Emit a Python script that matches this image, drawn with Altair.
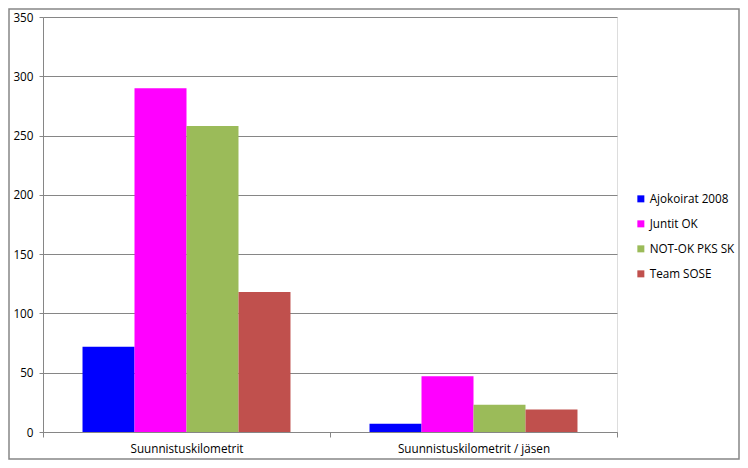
import altair as alt
import pandas as pd

categories = ["Suunnistuskilometrit", "Suunnistuskilometrit / jäsen"]
series = ["Ajokoirat 2008", "Juntit OK", "NOT-OK PKS SK", "Team SOSE"]
colors = ["#0000FF", "#FF00FF", "#9BBB59", "#C0504D"]
ajokoirat = [72, 7]
juntit = [290, 47]
notok = [258, 23]
sose = [118, 19]

values = [ajokoirat, juntit, notok, sose]
rows = []
for s, vals in zip(series, values):
    for c, v in zip(categories, vals):
        rows.append({"kategoria": c, "sarja": s, "arvo": v})
df = pd.DataFrame(rows)

FONT = "Open Sans"
FS = 11.7
GRAY = "#868686"

W, H = 574, 415
PL, PT, PR, PB = 35, 9, 123, 28

bars = alt.Chart(df).mark_bar(stroke=None).encode(
    x=alt.X("kategoria:N", sort=categories, title=None,
            scale=alt.Scale(paddingInner=0, paddingOuter=0),
            axis=alt.Axis(labelAngle=0, tickBand="extent", domainColor=GRAY, tickColor=GRAY,
                          tickSize=5, labelPadding=6, labelFontSize=FS, labelColor="#000000",
                          labelFont=FONT, grid=False)),
    xOffset=alt.XOffset("sarja:N", sort=series,
                        scale=alt.Scale(paddingInner=0, paddingOuter=0.76)),
    y=alt.Y("arvo:Q", title=None,
            scale=alt.Scale(domain=[0, 350], nice=False),
            axis=alt.Axis(values=[0, 50, 100, 150, 200, 250, 300, 350], grid=True,
                          gridColor=GRAY, gridOpacity=1, domainColor=GRAY, tickColor=GRAY,
                          tickSize=4, labelPadding=6, labelFontSize=FS, labelColor="#000000",
                          labelFont=FONT)),
    color=alt.Color("sarja:N", sort=series,
                    scale=alt.Scale(domain=series, range=colors),
                    legend=alt.Legend(title=None, orient="none", legendX=592, legendY=176,
                                      symbolType="square", symbolSize=49, symbolStrokeWidth=0,
                                      labelFontSize=FS, labelFont=FONT, labelColor="#000000",
                                      rowPadding=12, labelOffset=3)),
)

border = alt.Chart(pd.DataFrame({"a": [0]})).mark_rect(
    fill=None, stroke=GRAY, strokeWidth=1.5
).encode(x=alt.value(-PL + 1), x2=alt.value(W + PR - 1),
         y=alt.value(-PT + 1), y2=alt.value(H + PB - 1))

chart = alt.layer(border, bars).properties(
    width=W, height=H,
    autosize=alt.AutoSizeParams(type="none"),
    padding={"left": PL, "top": PT, "right": PR, "bottom": PB},
).configure_view(stroke=None).configure(background="#FFFFFF")

chart.save("out.html", embed_options={"renderer": "svg", "actions": False})
